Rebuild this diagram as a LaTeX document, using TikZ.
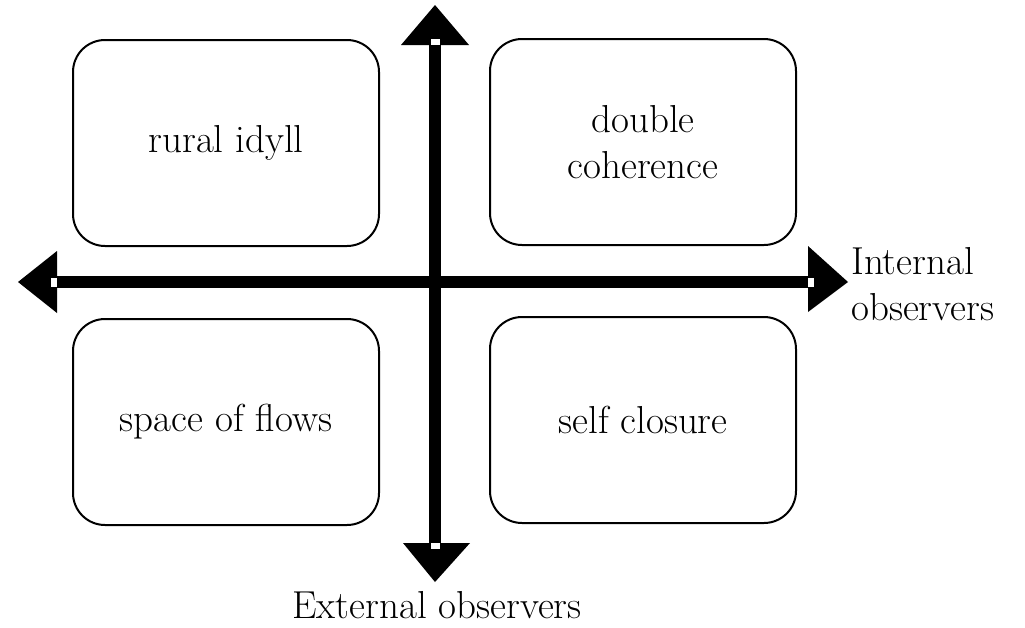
\documentclass[tikz,border=0pt]{standalone}
\begin{document}
\begin{tikzpicture}[x=1pt,y=-1pt,
  quad/.style={draw=black,line width=2pt,rounded corners=32pt,minimum width=306pt,minimum height=206pt,inner sep=0pt,align=center,font=\fontsize{39}{46}\selectfont},
  lbl/.style={inner sep=0pt,align=left,font=\fontsize{39}{46}\selectfont},
  head/.style={fill=black,draw=none},
  notch/.style={fill=white,draw=none}]
\useasboundingbox (0,0) rectangle (1025,627);
\node[quad] (ri) at (226,143) {rural idyll};
\node[quad] (dc) at (643,142) {double\\coherence};
\node[quad] (sf) at (226,422) {space of flows};
\node[quad] (sc) at (643,420) {self closure};
% axes
\coordinate (top) at (435,5);
\coordinate (bot) at (435,582);
\coordinate (lft) at (18,282);
\coordinate (rgt) at (848,282);
\fill (429,44) rectangle (441,544);
\fill (56,276) rectangle (809,288);
\fill[head] (top) -- (401,45) -- (469,45) -- cycle;
\fill[head] (bot) -- (403,543) -- (470,543) -- cycle;
\fill[head] (lft) -- (57,251) -- (57,313) -- cycle;
\fill[head] (rgt) -- (808,246) -- (808,312) -- cycle;
\fill[notch] (431,39) rectangle (440,45);
\fill[notch] (431,543) rectangle (440,549);
\fill[notch] (51,278) rectangle (57,287);
\fill[notch] (808,278) rectangle (814,287);
\node[lbl,anchor=west] (io) at (851,284) {Internal\\observers};
\node[lbl] (eo) at (437,605) {External observers};
\end{tikzpicture}
\end{document}
